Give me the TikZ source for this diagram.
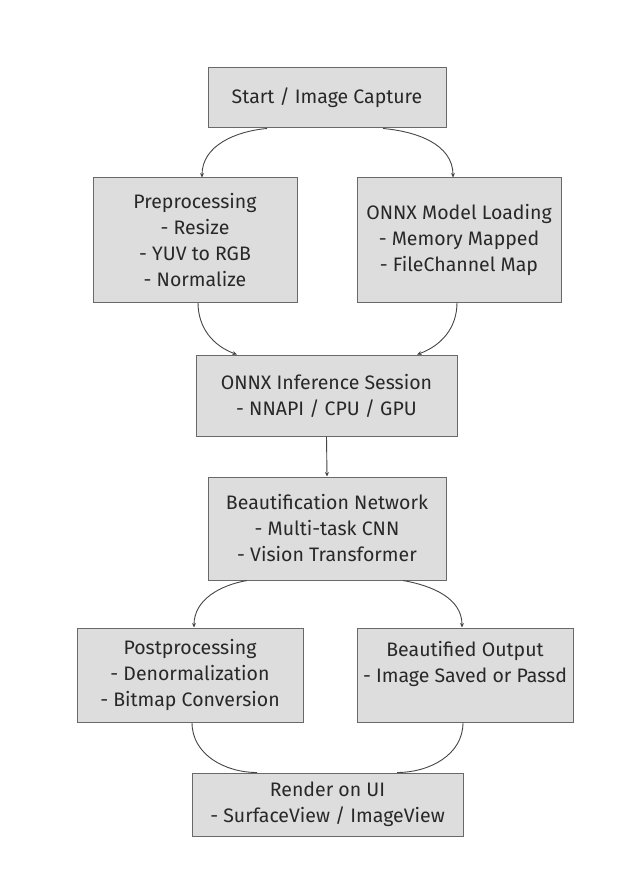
\documentclass[tikz,border=0pt]{standalone}
\usepackage{fontspec}
\setmainfont{Fira Sans}
\usetikzlibrary{arrows.meta,calc}
\definecolor{boxfill}{RGB}{221,221,221}
\definecolor{boxline}{RGB}{105,105,105}
\definecolor{txt}{RGB}{40,40,40}
\definecolor{conn}{RGB}{70,70,70}
\begin{document}
\begin{tikzpicture}[
  box/.style={draw=boxline, fill=boxfill, line width=1pt, align=center,
    text=txt, font=\fontsize{19.5}{26}\selectfont, inner sep=0pt},
  arr/.style={draw=conn, line width=0.9pt, -{Stealth[length=4.5pt,width=4pt]}},
  lnk/.style={draw=conn, line width=0.9pt}
]
\useasboundingbox[fill=white] (0,0) rectangle (637pt,-893pt);
\node[box, minimum width=238pt, minimum height=60pt] (start) at (327pt,-98pt) {Start / Image Capture};
\node[box, minimum width=204pt, minimum height=124pt] (pre) at (195pt,-240pt) {Preprocessing\\- Resize\\- YUV to RGB\\- Normalize};
\node[box, minimum width=204pt, minimum height=124pt] (model) at (459pt,-240pt) {ONNX Model Loading\\- Memory Mapped\\- FileChannel Map};
\node[box, minimum width=261pt, minimum height=81pt] (inf) at (326.5pt,-395.5pt) {ONNX Inference Session\\- NNAPI / CPU / GPU};
\node[box, minimum width=238pt, minimum height=103pt] (beaut) at (327pt,-528.5pt) {Beautification Network\\- Multi-task CNN\\- Vision Transformer};
\node[box, minimum width=226pt, minimum height=94pt] (post) at (190pt,-675pt) {Postprocessing\\- Denormalization\\- Bitmap Conversion};
\node[box, minimum width=216pt, minimum height=94pt] (out) at (465pt,-675pt) {Beautified Output\\- Image Saved or Passd\\\mbox{}};
\node[box, minimum width=271pt, minimum height=63pt] (render) at (327.5pt,-804.5pt) {Render on UI\\- SurfaceView / ImageView};

\draw[arr] ($(start.south)+(-60pt,0)$) to[out=185,in=90] ($(pre.north)+(7pt,0)$);
\draw[arr] ($(start.south)+(56pt,0)$) to[out=-5,in=90] ($(model.north)+(-6pt,0)$);
\draw[arr] ($(pre.south)+(3pt,0)$) to[out=-90,in=160] ($(inf.north)+(-89.5pt,0)$);
\draw[arr] ($(model.south)+(-2pt,0)$) to[out=-90,in=20] ($(inf.north)+(90.5pt,0)$);
\draw[arr] (inf.south) -- (beaut.north);
\draw[arr] ($(beaut.south)+(-80pt,0)$) to[out=190,in=90] ($(post.north)+(4pt,0)$);
\draw[arr] ($(beaut.south)+(76pt,0)$) to[out=-10,in=90] ($(out.north)+(-3pt,0)$);
\draw[lnk] ($(post.south)+(2pt,0)$) to[out=-90,in=180] ($(render.north)+(-70.5pt,0)$);
\draw[lnk] ($(out.south)+(-2pt,0)$) to[out=-90,in=0] ($(render.north)+(69.5pt,0)$);
\end{tikzpicture}
\end{document}
